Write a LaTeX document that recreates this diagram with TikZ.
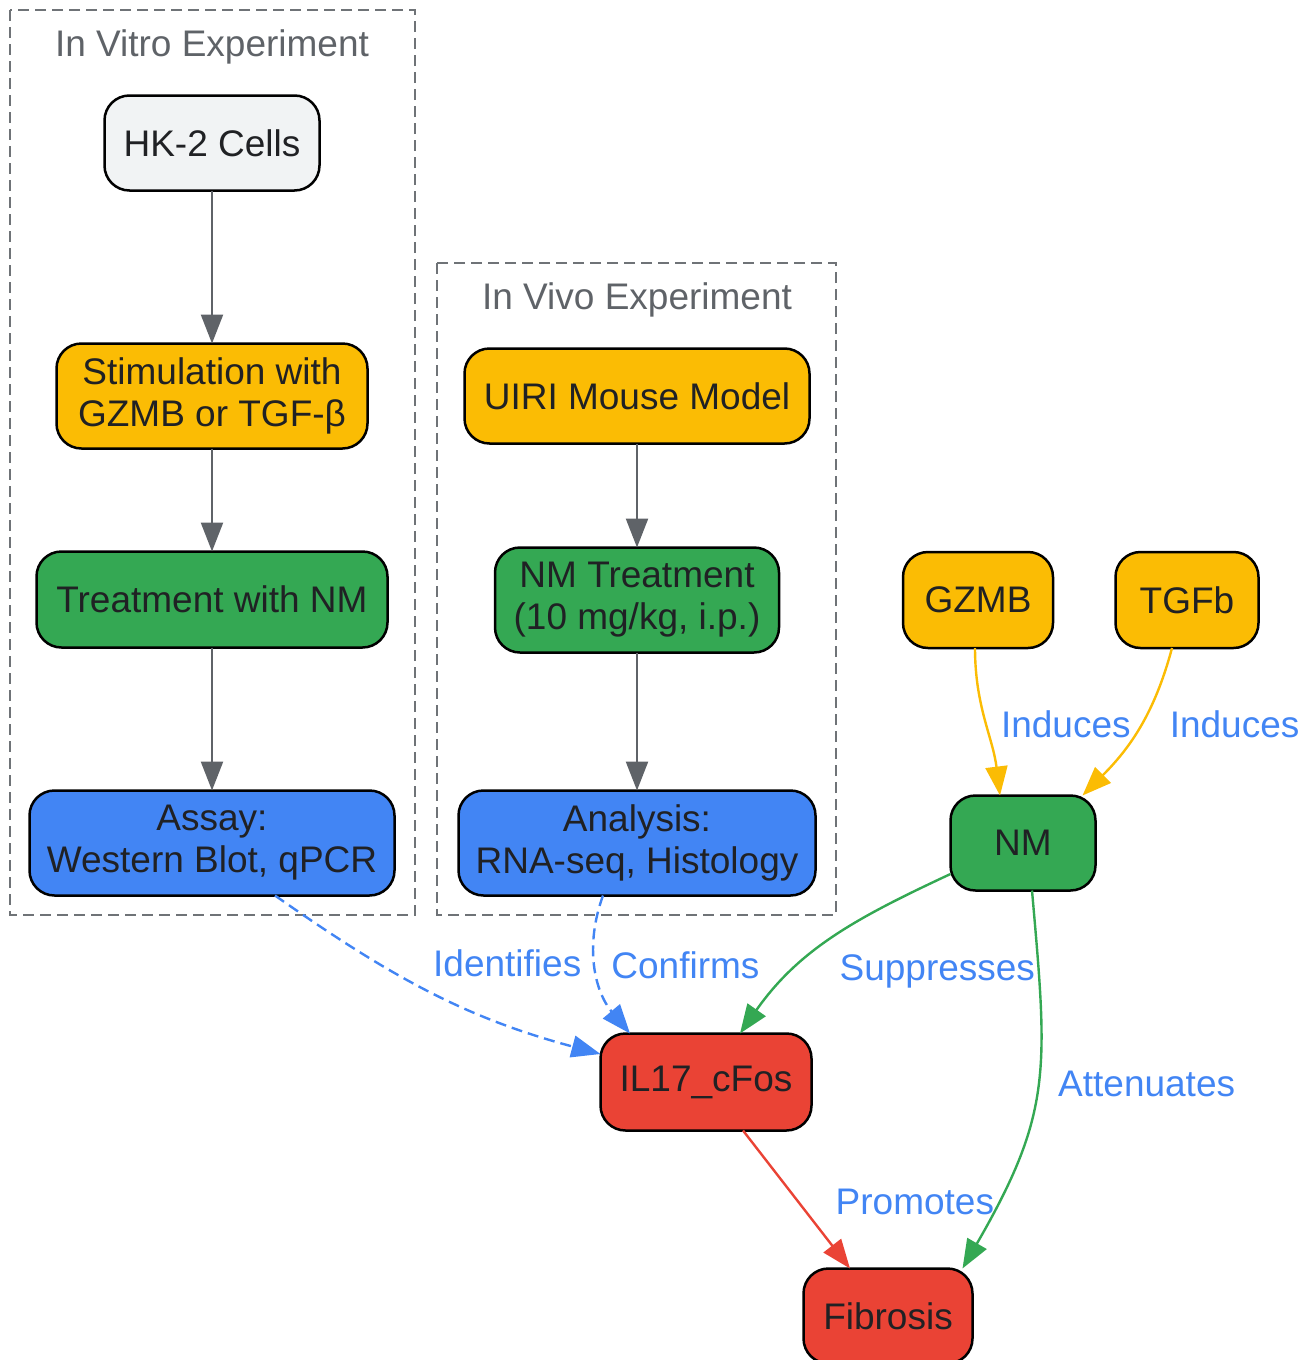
\documentclass[tikz,border=0pt]{standalone}
\usepackage{fontspec}
\setmainfont{Liberation Sans}
\usetikzlibrary{arrows.meta, positioning}

\definecolor{gyellow}{HTML}{FBBC04}
\definecolor{ggreen}{HTML}{34A853}
\definecolor{gblue}{HTML}{4285F4}
\definecolor{gred}{HTML}{EA4335}
\definecolor{glight}{HTML}{F1F3F4}
\definecolor{ggray}{HTML}{5F6368}
\definecolor{gtext}{HTML}{202124}

\begin{document}
\begin{tikzpicture}[
    x=1pt, y=1pt,
    font=\fontsize{37}{42}\selectfont,
    >={Triangle[length=29pt,width=22pt]},
    box/.style={rectangle, draw=black, line width=2.5pt, rounded corners=25pt,
                minimum height=95pt, align=center, text=gtext, inner sep=0pt,
                outer sep=0pt},
    cluster/.style={draw=ggray!90, line width=2.4pt, dash pattern=on 11pt off 6pt},
    flow/.style={->, draw=ggray, line width=2.4pt},
    link/.style={->, line width=2.4pt},
    lbl/.style={text=gblue, inner sep=2pt}
]
    \useasboundingbox (0,0) rectangle (1308,-1360);

    % in vitro
    \draw[cluster] (10,-10) rectangle (415,-915);
    \node[text=ggray] (vitrolbl) at (212,-47) {In Vitro Experiment};
    \node[box, fill=glight, minimum width=215pt] (hk2) at (212,-143) {HK-2 Cells};
    \node[box, fill=gyellow, minimum width=311pt, minimum height=105pt,
          below=153pt of hk2] (stim) {Stimulation with\\GZMB or TGF-β};
    \node[box, fill=ggreen, minimum width=351pt, minimum height=96pt,
          below=103pt of stim] (treat) {Treatment with NM};
    \node[box, fill=gblue, minimum width=365pt, minimum height=105pt,
          below=143pt of treat] (assay) {Assay:\\Western Blot, qPCR};

    % in vivo
    \draw[cluster] (437,-263) rectangle (836,-915);
    \node[text=ggray] (vivolbl) at (637,-300) {In Vivo Experiment};
    \node[box, fill=gyellow, minimum width=345pt] (uiri) at (637,-396) {UIRI Mouse Model};
    \node[box, fill=ggreen, minimum width=284pt, minimum height=105pt,
          below=104pt of uiri] (nmtreat) {NM Treatment\\(10 mg/kg, i.p.)};
    \node[box, fill=gblue, minimum width=357pt, minimum height=105pt,
          below=138pt of nmtreat] (analysis) {Analysis:\\RNA-seq, Histology};

    % mechanism
    \node[box, fill=gyellow, minimum width=150pt, minimum height=96pt] (gzmb) at (978,-600) {GZMB};
    \node[box, fill=gyellow, minimum width=143pt, minimum height=96pt] (tgfb) at (1187,-600) {TGFb};
    \node[box, fill=ggreen, minimum width=145pt] (nm) at (1023,-843) {NM};
    \node[box, fill=gred, minimum width=211pt, minimum height=97pt] (il17) at (706,-1082) {IL17\_cFos};
    \node[box, fill=gred, minimum width=169pt] (fib) at (888,-1316) {Fibrosis};

    \draw[flow] (hk2) -- (stim);
    \draw[flow] (stim) -- (treat);
    \draw[flow] (treat) -- (assay);
    \draw[flow] (uiri) -- (nmtreat);
    \draw[flow] (nmtreat) -- (analysis);

    \draw[link, gyellow] ([xshift=-3pt]gzmb.south) to[out=-90, in=97]
        node[lbl, midway, right=13pt, yshift=-2pt] {Induces} ([xshift=-23pt]nm.north);
    \draw[link, gyellow] ([xshift=-15pt]tgfb.south) to[out=-105, in=45]
        node[lbl, midway, right=28pt, yshift=4pt] {Induces} ([xshift=-13pt]nm.north east);
    \draw[link, ggreen] ([yshift=-31pt]nm.west) to[out=205, in=55]
        node[lbl, pos=0.55, right=14pt, yshift=-26pt] {Suppresses} ([xshift=34pt]il17.north);
    \draw[link, ggreen] ([xshift=9pt]nm.south) to[out=-85, in=60, looseness=1.2]
        node[lbl, midway, right=18pt, yshift=4pt] {Attenuates} ([xshift=-10pt]fib.north east);
    \draw[link, gblue, dash pattern=on 11pt off 6pt] ([xshift=63pt]assay.south)
        to[out=-35, in=165] node[lbl, midway, anchor=south west, yshift=11pt] {Identifies}
        ([yshift=28pt]il17.west);
    \draw[link, gblue, dash pattern=on 11pt off 6pt] ([xshift=-34pt]analysis.south)
        to[out=-110, in=130] node[lbl, midway, right=12pt, yshift=3pt] {Confirms}
        ([xshift=-76pt]il17.north);
    \draw[link, gred] ([xshift=37pt]il17.south) --
        node[lbl, midway, right=36pt, yshift=-2pt] {Promotes} ([xshift=-38pt]fib.north);
\end{tikzpicture}
\end{document}
